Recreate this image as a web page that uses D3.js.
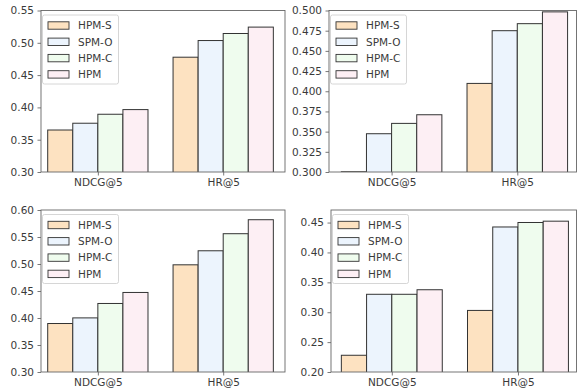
<!DOCTYPE html>
<html>
<head>
<meta charset="utf-8">
<script src="https://cdn.jsdelivr.net/npm/d3@7"></script>
<style>
  html, body { margin: 0; padding: 0; background: #fff; }
  svg { font-family: "DejaVu Sans", sans-serif; }
</style>
</head>
<body>
<div id="chart"></div>
<script>
// data
const methods = ['HPM-S', 'SPM-O', 'HPM-C', 'HPM']
const metrics = ['NDCG@5', 'HR@5']
// per panel: values[metric][method]
const panelA = [[0.365, 0.3755, 0.3894, 0.3966], [0.4777, 0.5035, 0.5144, 0.5243]]
const panelB = [[0.3003, 0.3474, 0.3602, 0.3709], [0.4097, 0.4750, 0.4837, 0.4983]]
const panelC = [[0.3898, 0.4002, 0.4269, 0.4473], [0.4985, 0.5245, 0.5561, 0.5820]]
const panelD = [[0.228, 0.330, 0.330, 0.3376], [0.303, 0.4426, 0.4501, 0.4523]]
const yTicksA = [0.30, 0.35, 0.40, 0.45, 0.50, 0.55]
const yTicksB = [0.300, 0.325, 0.350, 0.375, 0.400, 0.425, 0.450, 0.475, 0.500]
const yTicksC = [0.30, 0.35, 0.40, 0.45, 0.50, 0.55, 0.60]
const yTicksD = [0.20, 0.25, 0.30, 0.35, 0.40, 0.45]

const colors = ['#fde2c1', '#ecf4fd', '#effcee', '#fdeff4']

const W = 577, H = 389
const svg = d3.select('#chart').append('svg')
  .attr('width', W).attr('height', H)

const panels = [
  { data: panelA, ticks: yTicksA, fmt: '.2f', yDom: [0.30, 0.55], xDom: [-0.4535, 1.493],
    box: { x: 41, y: 10.5, w: 244, h: 161.5 } },
  { data: panelB, ticks: yTicksB, fmt: '.3f', yDom: [0.30, 0.50], xDom: [-0.498, 1.471],
    box: { x: 329, y: 10.5, w: 247.5, h: 161.5 } },
  { data: panelC, ticks: yTicksC, fmt: '.2f', yDom: [0.30, 0.60], xDom: [-0.4535, 1.493],
    box: { x: 41, y: 210, w: 244, h: 162 } },
  { data: panelD, ticks: yTicksD, fmt: '.2f', yDom: [0.20, 0.471], xDom: [-0.482, 1.464],
    box: { x: 331, y: 210, w: 245.5, h: 162 } }
]

const barW = 0.2
const fontSize = 10.5
const textCol = '#3a3a3a'

panels.forEach(p => {
  const b = p.box
  const g = svg.append('g').attr('transform', `translate(${b.x},${b.y})`)
  const x = d3.scaleLinear().domain(p.xDom).range([0, b.w])
  const y = d3.scaleLinear().domain(p.yDom).range([b.h, 0])

  // bars, clipped to the plot area
  const clip = 'clip' + b.x + '_' + b.y
  g.append('clipPath').attr('id', clip)
    .append('rect').attr('width', b.w).attr('height', b.h)
  const bars = g.append('g').attr('clip-path', `url(#${clip})`)
  p.data.forEach((vals, gi) => {
    vals.forEach((v, mi) => {
      const x0 = x(gi - 0.4 + mi * barW)
      const x1 = x(gi - 0.4 + (mi + 1) * barW)
      bars.append('rect')
        .attr('x', x0).attr('width', x1 - x0)
        .attr('y', y(v)).attr('height', b.h - y(v) + 2)
        .attr('fill', colors[mi])
        .attr('stroke', '#333').attr('stroke-width', 1)
    })
  })

  // axes
  const yAxis = d3.axisLeft(y).tickValues(p.ticks).tickFormat(d3.format(p.fmt))
    .tickSizeOuter(0).tickSize(3.5).tickPadding(3.5)
  const xAxis = d3.axisBottom(x).tickValues([0, 1]).tickFormat((d, i) => metrics[i])
    .tickSizeOuter(0).tickSize(3.5).tickPadding(3.5)
  const ya = g.append('g').call(yAxis)
  const xa = g.append('g').attr('transform', `translate(0,${b.h})`).call(xAxis)
  ;[ya, xa].forEach(a => {
    a.select('.domain').remove()
    a.selectAll('line').attr('stroke', '#555').attr('stroke-width', 0.8)
    a.selectAll('text').attr('fill', textCol).style('font-size', fontSize + 'px')
      .style('font-family', '"DejaVu Sans", sans-serif')
  })

  // frame
  g.append('rect').attr('width', b.w).attr('height', b.h)
    .attr('fill', 'none').attr('stroke', '#666').attr('stroke-width', 0.9)

  // legend
  const lg = g.append('g').attr('transform', 'translate(1.5,4.5)')
  lg.append('rect').attr('width', 76).attr('height', 69)
    .attr('rx', 2).attr('fill', 'rgba(255,255,255,0.8)')
    .attr('stroke', '#ccc').attr('stroke-width', 0.8)
  methods.forEach((m, i) => {
    const ry = 10.5 + i * 16.3
    lg.append('rect').attr('x', 5.5).attr('y', ry - 3.7).attr('width', 21).attr('height', 7.4)
      .attr('fill', colors[i]).attr('stroke', '#333').attr('stroke-width', 0.9)
    lg.append('text').attr('x', 35.5).attr('y', ry).attr('dy', '0.36em')
      .style('font-size', fontSize + 'px').attr('fill', textCol).text(m)
  })
})
</script>
</body>
</html>
